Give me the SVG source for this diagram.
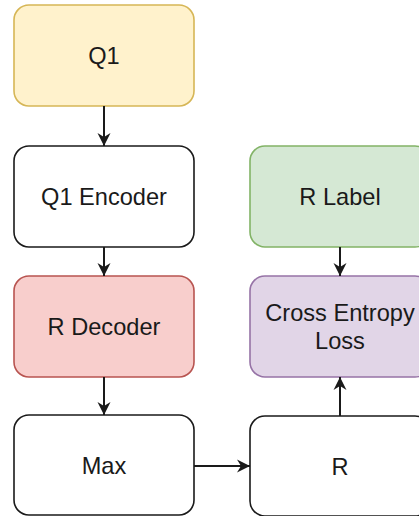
<svg xmlns="http://www.w3.org/2000/svg" width="419" height="516" viewBox="0 0 419 516">
<defs>
<marker id="arr" viewBox="0 0 14 14" refX="13" refY="7" markerWidth="14" markerHeight="14" markerUnits="userSpaceOnUse" orient="auto">
<path d="M0,0.5 L13,7 L0,13.5 L4,7 Z" fill="#1a1a1a"/>
</marker>
<style>
.box{stroke-width:1.6}
.txt{font-family:"Liberation Sans",Arial,sans-serif;font-size:23.6px;fill:#1a1a1a;text-anchor:middle}
.edge{stroke:#1a1a1a;stroke-width:2;fill:none;marker-end:url(#arr)}
</style>
</defs>
<rect width="419" height="516" fill="#ffffff"/>
<g id="q1"><rect class="box" x="14" y="5" width="180" height="101" rx="15" fill="#fff2cc" stroke="#d6b656"/><text class="txt" x="104" y="64">Q1</text></g>
<g id="q1enc"><rect class="box" x="14" y="146" width="180" height="101" rx="15" fill="#ffffff" stroke="#1a1a1a"/><text class="txt" x="104" y="205">Q1 Encoder</text></g>
<g id="rdec"><rect class="box" x="14" y="276" width="180" height="101" rx="15" fill="#f8cecc" stroke="#b85450"/><text class="txt" x="104" y="335">R Decoder</text></g>
<g id="max"><rect class="box" x="14" y="415" width="180" height="100" rx="15" fill="#ffffff" stroke="#1a1a1a"/><text class="txt" x="104" y="474">Max</text></g>
<g id="rlabel"><rect class="box" x="250" y="146" width="180" height="101" rx="15" fill="#d5e8d4" stroke="#82b366"/><text class="txt" x="340" y="205">R Label</text></g>
<g id="ce"><rect class="box" x="250" y="276" width="180" height="101" rx="15" fill="#e1d5e7" stroke="#9673a6"/><text class="txt" x="340" y="321">Cross Entropy</text><text class="txt" x="340" y="349">Loss</text></g>
<g id="r"><rect class="box" x="250" y="416" width="180" height="100" rx="15" fill="#ffffff" stroke="#1a1a1a"/><text class="txt" x="340" y="475">R</text></g>
<g id="connectors">
<line class="edge" x1="104" y1="106" x2="104" y2="146"/>
<line class="edge" x1="104" y1="247" x2="104" y2="276"/>
<line class="edge" x1="104" y1="377" x2="104" y2="415"/>
<line class="edge" x1="340" y1="247" x2="340" y2="276"/>
<line class="edge" x1="194" y1="466" x2="250" y2="466"/>
<line class="edge" x1="340" y1="416" x2="340" y2="377"/>
</g>
</svg>
